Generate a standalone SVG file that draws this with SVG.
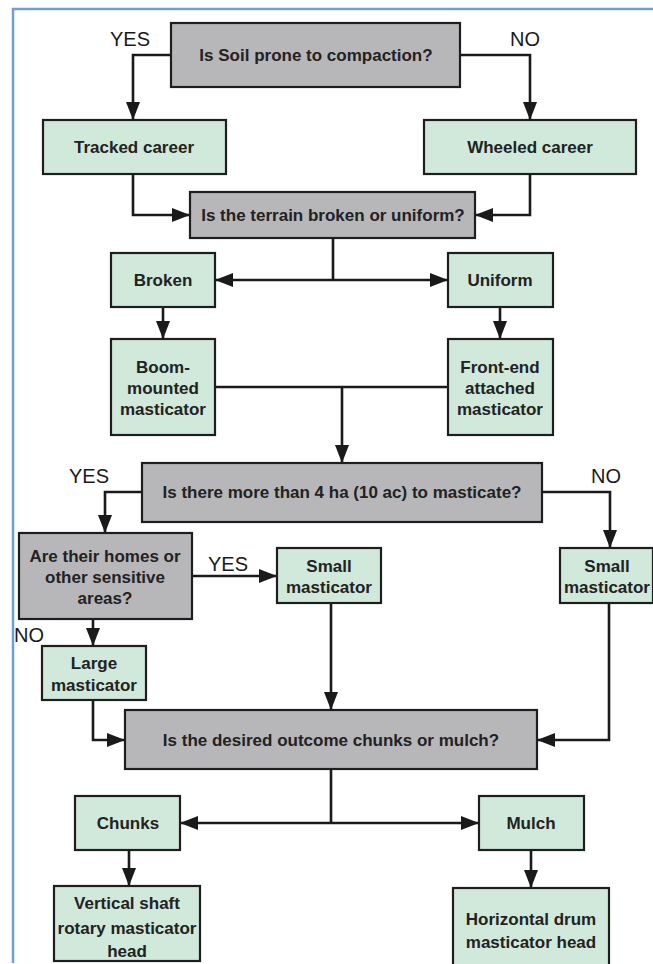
<svg xmlns="http://www.w3.org/2000/svg" width="653" height="964" viewBox="0 0 653 964">
  <style>
    .frame { fill: none; stroke: #6e9fd8; stroke-width: 2.5; }
    .box { stroke: #1e1e1e; stroke-width: 2.2; }
    .q { fill: #b7b7ba; }
    .a { fill: #d0e9da; }
    .t { font-family: "Liberation Sans", Arial, sans-serif; font-size: 17px; font-weight: bold; fill: #222; text-anchor: middle; dominant-baseline: central; }
    .lbl { font-family: "Liberation Sans", Arial, sans-serif; font-size: 20px; fill: #1a1a1a; }
    .c { fill: none; stroke: #1a1a1a; stroke-width: 2.6; }
  </style>
  <defs>
    <marker id="arrow" markerUnits="userSpaceOnUse" markerWidth="18" markerHeight="14" refX="17" refY="7" orient="auto">
      <path d="M0,0 L18,7 L0,14 z" fill="#1a1a1a"/>
    </marker>
  </defs>

  <rect width="653" height="964" fill="#ffffff"/>
  <!-- page frame: left and top edges only -->
  <path class="frame" d="M13,963 L13,9 L653,9"/>

  <!-- connectors -->
  <g id="connectors">
    <path class="c" d="M171,55 H133 V119" marker-end="url(#arrow)"/>
    <path class="c" d="M460,55 H530 V119" marker-end="url(#arrow)"/>
    <path class="c" d="M133,174 V215 H189" marker-end="url(#arrow)"/>
    <path class="c" d="M530,174 V215 H476" marker-end="url(#arrow)"/>
    <path class="c" d="M333,238 V280"/>
    <path class="c" d="M333,280 H216" marker-end="url(#arrow)"/>
    <path class="c" d="M333,280 H447" marker-end="url(#arrow)"/>
    <path class="c" d="M163,307 V338" marker-end="url(#arrow)"/>
    <path class="c" d="M500,307 V338" marker-end="url(#arrow)"/>
    <path class="c" d="M215,387 H448"/>
    <path class="c" d="M342,387 V462" marker-end="url(#arrow)"/>
    <path class="c" d="M142,492 H105 V532" marker-end="url(#arrow)"/>
    <path class="c" d="M542,492 H610 V547" marker-end="url(#arrow)"/>
    <path class="c" d="M192,576 H276" marker-end="url(#arrow)"/>
    <path class="c" d="M93,619 V645" marker-end="url(#arrow)"/>
    <path class="c" d="M93,700 V740 H124" marker-end="url(#arrow)"/>
    <path class="c" d="M331,603 V709" marker-end="url(#arrow)"/>
    <path class="c" d="M609,603 V740 H538" marker-end="url(#arrow)"/>
    <path class="c" d="M331,769 V823"/>
    <path class="c" d="M331,823 H181" marker-end="url(#arrow)"/>
    <path class="c" d="M331,823 H478" marker-end="url(#arrow)"/>
    <path class="c" d="M129,850 V885" marker-end="url(#arrow)"/>
    <path class="c" d="M531,850 V887" marker-end="url(#arrow)"/>
  </g>

  <!-- branch labels -->
  <g id="labels">
    <text class="lbl" x="110" y="46">YES</text>
    <text class="lbl" x="510" y="46">NO</text>
    <text class="lbl" x="69" y="483">YES</text>
    <text class="lbl" x="591" y="483">NO</text>
    <text class="lbl" x="208" y="571">YES</text>
    <text class="lbl" x="14" y="642">NO</text>
  </g>

  <g id="q-compaction">
    <rect class="box q" x="171" y="23" width="289" height="64"/>
    <text class="t" x="316" y="55">Is Soil prone to compaction?</text>
  </g>
  <g id="tracked">
    <rect class="box a" x="43" y="120" width="183" height="54"/>
    <text class="t" x="134" y="147">Tracked career</text>
  </g>
  <g id="wheeled">
    <rect class="box a" x="424" y="120" width="212" height="54"/>
    <text class="t" x="530" y="147">Wheeled career</text>
  </g>
  <g id="q-terrain">
    <rect class="box q" x="190" y="192" width="285" height="46"/>
    <text class="t" x="333" y="215">Is the terrain broken or uniform?</text>
  </g>
  <g id="broken">
    <rect class="box a" x="111" y="253" width="104" height="54"/>
    <text class="t" x="163" y="280">Broken</text>
  </g>
  <g id="uniform">
    <rect class="box a" x="448" y="253" width="105" height="54"/>
    <text class="t" x="500" y="280">Uniform</text>
  </g>
  <g id="boom">
    <rect class="box a" x="111" y="339" width="104" height="96"/>
    <text class="t" x="163" y="367">Boom-</text>
    <text class="t" x="163" y="388">mounted</text>
    <text class="t" x="163" y="409">masticator</text>
  </g>
  <g id="front-end">
    <rect class="box a" x="448" y="339" width="105" height="96"/>
    <text class="t" x="500" y="367">Front-end</text>
    <text class="t" x="500" y="388">attached</text>
    <text class="t" x="500" y="409">masticator</text>
  </g>
  <g id="q-area">
    <rect class="box q" x="142" y="463" width="400" height="59"/>
    <text class="t" x="342" y="492">Is there more than 4 ha (10 ac) to masticate?</text>
  </g>
  <g id="q-homes">
    <rect class="box q" x="19" y="533" width="173" height="86"/>
    <text class="t" x="105" y="556">Are their homes or</text>
    <text class="t" x="105" y="577">other sensitive</text>
    <text class="t" x="105" y="598">areas?</text>
  </g>
  <g id="small-a">
    <rect class="box a" x="277" y="548" width="104" height="55"/>
    <text class="t" x="329" y="566">Small</text>
    <text class="t" x="329" y="587">masticator</text>
  </g>
  <g id="small-b">
    <rect class="box a" x="560" y="548" width="93" height="55"/>
    <text class="t" x="607" y="566">Small</text>
    <text class="t" x="607" y="587">masticator</text>
  </g>
  <g id="large">
    <rect class="box a" x="42" y="646" width="104" height="54"/>
    <text class="t" x="94" y="663">Large</text>
    <text class="t" x="94" y="685">masticator</text>
  </g>
  <g id="q-outcome">
    <rect class="box q" x="125" y="710" width="412" height="59"/>
    <text class="t" x="331" y="740">Is the desired outcome chunks or mulch?</text>
  </g>
  <g id="chunks">
    <rect class="box a" x="75" y="796" width="105" height="54"/>
    <text class="t" x="128" y="823">Chunks</text>
  </g>
  <g id="mulch">
    <rect class="box a" x="479" y="796" width="105" height="54"/>
    <text class="t" x="531" y="823">Mulch</text>
  </g>
  <g id="vertical-shaft">
    <rect class="box a" x="54" y="886" width="146" height="75"/>
    <text class="t" x="127" y="903">Vertical shaft</text>
    <text class="t" x="127" y="928">rotary masticator</text>
    <text class="t" x="127" y="951">head</text>
  </g>
  <g id="horizontal-drum">
    <rect class="box a" x="453" y="888" width="156" height="84"/>
    <text class="t" x="531" y="919">Horizontal drum</text>
    <text class="t" x="531" y="942">masticator head</text>
  </g>
</svg>
